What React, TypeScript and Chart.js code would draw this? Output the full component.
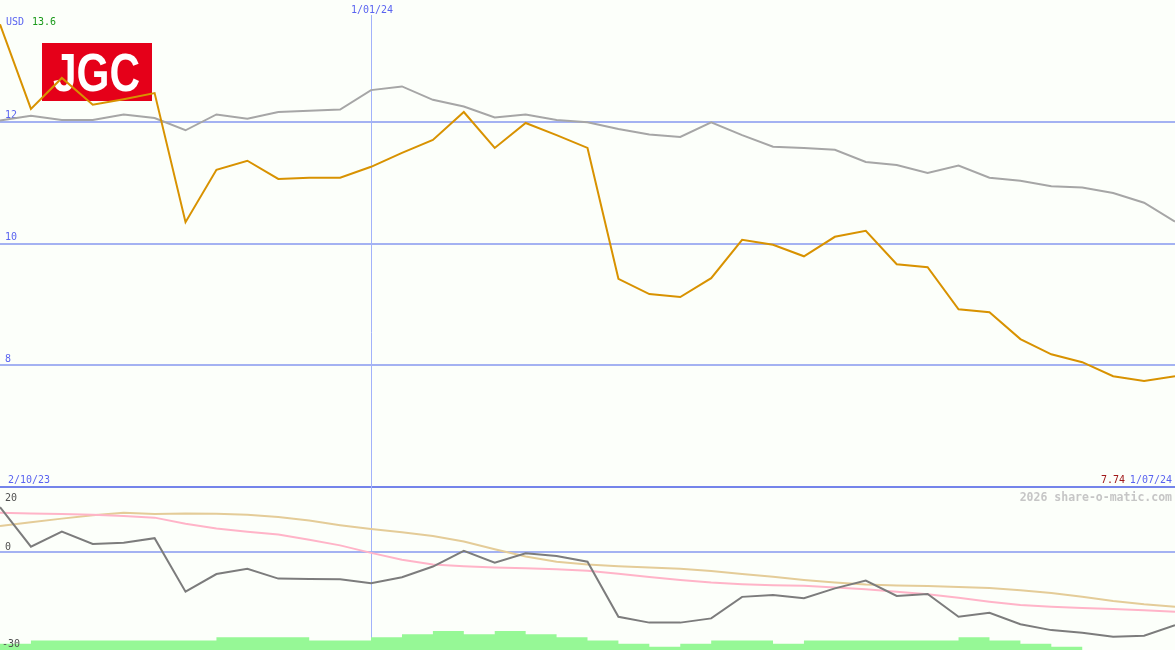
import React, { useEffect, useRef } from 'react';
import { Chart, registerables } from 'chart.js';

Chart.register(...registerables);

// ---------- data ----------
const dates = [
  '9/10/23', '16/10/23', '23/10/23', '30/10/23', '6/11/23', '13/11/23', '20/11/23', '27/11/23',
  '4/12/23', '11/12/23', '18/12/23', '25/12/23', '1/01/24', '8/01/24', '15/01/24', '22/01/24',
  '29/01/24', '5/02/24', '12/02/24', '19/02/24', '26/02/24', '4/03/24', '11/03/24', '18/03/24',
  '25/03/24', '1/04/24', '8/04/24', '15/04/24', '22/04/24', '29/04/24', '6/05/24', '13/05/24',
  '20/05/24', '27/05/24', '3/06/24', '10/06/24', '17/06/24', '24/06/24', '1/07/24',
];

const price = [
  13.6, 12.21, 12.72, 12.28, 12.37, 12.47, 10.35, 11.21, 11.36, 11.06, 11.08, 11.08, 11.26,
  11.49, 11.7, 12.16, 11.57, 11.98, 11.78, 11.57, 9.42, 9.17, 9.12, 9.43, 10.06, 9.98,
  9.79, 10.11, 10.21, 9.66, 9.61, 8.92, 8.87, 8.43, 8.18, 8.05, 7.82, 7.74, 7.82,
];

const average = [
  12.02, 12.1, 12.03, 12.03, 12.12, 12.06, 11.86, 12.12, 12.05, 12.16, 12.18, 12.2, 12.52,
  12.58, 12.36, 12.25, 12.07, 12.12, 12.03, 11.99, 11.88, 11.79, 11.75, 11.99, 11.78, 11.59,
  11.57, 11.54, 11.34, 11.29, 11.16, 11.28, 11.08, 11.03, 10.94, 10.92, 10.83, 10.67, 10.36,
];

const oscillator = [
  13.8, 1.7, 6.3, 2.5, 2.9, 4.3, -12.1, -6.7, -5.1, -8.1, -8.2, -8.3, -9.5,
  -7.7, -4.4, 0.4, -3.2, -0.3, -1.2, -2.9, -19.8, -21.6, -21.6, -20.3, -13.7, -13.1,
  -14.1, -11.1, -8.7, -13.4, -12.8, -19.8, -18.6, -22.1, -23.9, -24.7, -25.9, -25.6, -22.4,
];

const signalFast = [
  12.1, 11.9, 11.7, 11.5, 11.1, 10.6, 8.7, 7.3, 6.3, 5.4, 3.8, 2.1, -0.2,
  -2.3, -3.8, -4.3, -4.7, -4.9, -5.2, -5.7, -6.6, -7.6, -8.5, -9.3, -9.8, -10.1,
  -10.3, -10.8, -11.4, -12.1, -12.9, -14.0, -15.2, -16.2, -16.7, -17.1, -17.4, -17.8, -18.3,
];

const signalSlow = [
  8.0, 9.2, 10.3, 11.3, 12.1, 11.7, 11.9, 11.8, 11.5, 10.8, 9.7, 8.3, 7.1,
  6.1, 5.0, 3.3, 0.9, -1.3, -2.9, -3.8, -4.3, -4.7, -5.1, -5.8, -6.7, -7.5,
  -8.5, -9.3, -9.9, -10.2, -10.4, -10.7, -11.0, -11.7, -12.5, -13.7, -15.0, -16.0, -16.7,
];

const volume = [
  2, 3, 3, 3, 3, 3, 3, 4, 4, 4, 3, 3, 4,
  5, 6, 5, 6, 5, 4, 3, 2, 1, 2, 3, 3, 2,
  3, 3, 3, 3, 3, 4, 3, 2, 1, 0, 0, 0, 0,
];

const priceTicks = [12, 10, 8];
const oscTicks = [20, 0, -30];
const markedDate = '1/01/24';
const periodStart = '2/10/23';
const currency = 'USD';
const brand = 'JGC';
const watermark = '2026 share-o-matic.com';

// ---------- style ----------
const BG = '#fcfffa';
const MONO = "'DejaVu Sans Mono', monospace";
const BLUE_TEXT = '#5a64f0';
const GRID = '#a4b2f2';
const SEP = '#7484ea';
const MARK_LINE = '#a2b2fa';

const decorPlugin = {
  id: 'decor',
  beforeDraw(chart: any) {
    const { ctx, width, height } = chart;
    ctx.save();
    ctx.fillStyle = BG;
    ctx.fillRect(0, 0, width, height);
    ctx.restore();
  },
  beforeDatasetsDraw(chart: any) {
    const ctx = chart.ctx;
    const xs = chart.scales.x;
    const area = chart.chartArea;
    ctx.save();
    // vertical marker line at the marked date
    const mx = Math.round(xs.getPixelForValue(dates.indexOf(markedDate))) + 0.5;
    ctx.strokeStyle = MARK_LINE;
    ctx.lineWidth = 1;
    ctx.beginPath();
    ctx.moveTo(mx, area.top + 15);
    ctx.lineTo(mx, area.bottom);
    ctx.stroke();

    // logo
    ctx.fillStyle = '#e50019';
    ctx.fillRect(42, 43, 110, 58);
    ctx.fillStyle = '#ffffff';
    ctx.font = "bold 53px 'Liberation Sans', Arial, sans-serif";
    ctx.textAlign = 'center';
    ctx.textBaseline = 'alphabetic';
    ctx.translate(96.5, 91);
    ctx.scale(0.8, 1);
    ctx.fillText(brand, 0, 0);
    ctx.restore();
  },
  afterDraw(chart: any) {
    const { ctx, width } = chart;
    const xs = chart.scales.x;
    const y2 = chart.scales.y2;
    ctx.save();
    ctx.font = `10px ${MONO}`;
    ctx.textBaseline = 'alphabetic';

    // top-left currency + max
    ctx.textAlign = 'left';
    ctx.fillStyle = BLUE_TEXT;
    ctx.fillText(currency, 6, 25);
    ctx.fillStyle = '#1a9a1a';
    ctx.fillText(Math.max(...price).toFixed(1), 32, 25);

    // marked date at top
    const mx = xs.getPixelForValue(dates.indexOf(markedDate));
    ctx.textAlign = 'center';
    ctx.fillStyle = BLUE_TEXT;
    ctx.fillText(markedDate, mx + 1, 13);

    // bottom line of the price panel
    const sep = y2.top;
    ctx.textAlign = 'left';
    ctx.fillText(periodStart, 8, sep - 4);
    ctx.textAlign = 'right';
    ctx.fillText(dates[dates.length - 1], width - 3, sep - 4);
    ctx.fillStyle = '#a01818';
    ctx.fillText(Math.min(...price).toFixed(2), width - 50, sep - 4);

    // watermark
    ctx.font = `bold 11.5px ${MONO}`;
    ctx.fillStyle = '#c6c6c6';
    ctx.fillText(watermark, width - 3, sep + 13.5);

    // oscillator axis labels
    ctx.font = `10px ${MONO}`;
    ctx.fillStyle = '#505050';
    ctx.textAlign = 'left';
    const top = Math.max(...oscTicks);
    const bottom = Math.min(...oscTicks);
    oscTicks.forEach((t) => {
      const py = y2.getPixelForValue(t);
      let by = py - 2.5;
      if (t === top) by = py + 13.5;
      else if (t === bottom) by = py - 3.5;
      ctx.fillText(String(t), t < 0 ? 2 : 5, by);
    });
    ctx.restore();
  },
};

const flatAxis = (s: any) => {
  s.width = 0;
  s.paddingTop = 0;
  s.paddingBottom = 0;
  s.paddingLeft = 0;
  s.paddingRight = 0;
};

export default function App() {
  const ref = useRef<HTMLCanvasElement>(null);

  useEffect(() => {
    const chart = new Chart(ref.current as HTMLCanvasElement, {
      type: 'line',
      data: {
        labels: dates,
        datasets: [
          {
            label: 'Price',
            data: price,
            yAxisID: 'y',
            borderColor: '#d89200',
            borderWidth: 2,
            pointRadius: 0,
            tension: 0,
            order: 0,
          },
          {
            label: 'Average',
            data: average,
            yAxisID: 'y',
            borderColor: '#a6a6a6',
            borderWidth: 2,
            pointRadius: 0,
            tension: 0,
            order: 1,
          },
          {
            label: 'Oscillator',
            data: oscillator,
            yAxisID: 'y2',
            borderColor: '#7c7c7c',
            borderWidth: 2,
            pointRadius: 0,
            tension: 0,
            order: 2,
          },
          {
            label: 'Signal fast',
            data: signalFast,
            yAxisID: 'y2',
            borderColor: '#ffb4c8',
            borderWidth: 2,
            pointRadius: 0,
            tension: 0,
            order: 3,
          },
          {
            label: 'Signal slow',
            data: signalSlow,
            yAxisID: 'y2',
            borderColor: '#e4cc98',
            borderWidth: 2,
            pointRadius: 0,
            tension: 0,
            order: 4,
          },
          {
            label: 'Volume',
            data: volume,
            yAxisID: 'yVol',
            borderWidth: 0,
            borderColor: 'rgba(0,0,0,0)',
            backgroundColor: '#96f896',
            fill: 'start',
            stepped: true,
            pointRadius: 0,
            order: 10,
          },
        ],
      },
      options: {
        responsive: false,
        devicePixelRatio: 1,
        animation: false,
        events: [],
        layout: { padding: 0 },
        plugins: {
          legend: { display: false },
          tooltip: { enabled: false },
          title: { display: false },
        },
        scales: {
          x: {
            type: 'category',
            offset: false,
            border: { display: false },
            grid: { display: false, drawTicks: false },
            ticks: { display: false },
            afterFit: (s: any) => {
              s.height = 0;
              s.paddingLeft = 0;
              s.paddingRight = 0;
              s.paddingTop = 0;
              s.paddingBottom = 0;
            },
          },
          y2: {
            position: 'left',
            stack: 'panels',
            stackWeight: 163,
            min: -30,
            max: 20,
            border: { display: false },
            grid: {
              drawTicks: false,
              lineWidth: 2,
              color: (c: any) =>
                c.tick && c.tick.value === 20 ? SEP : c.tick && c.tick.value === 0 ? GRID : 'rgba(0,0,0,0)',
            },
            ticks: { display: false },
            afterBuildTicks: (s: any) => {
              s.ticks = oscTicks.map((v) => ({ value: v }));
            },
            afterFit: flatAxis,
          },
          y: {
            position: 'left',
            stack: 'panels',
            stackWeight: 487,
            min: 6,
            max: 14,
            border: { display: false },
            grid: {
              drawTicks: false,
              lineWidth: 2,
              color: GRID,
            },
            ticks: {
              mirror: true,
              padding: 5,
              labelOffset: -6,
              color: BLUE_TEXT,
              font: { family: MONO, size: 10 },
            },
            afterBuildTicks: (s: any) => {
              s.ticks = priceTicks.map((v) => ({ value: v }));
            },
            afterFit: flatAxis,
          },
          yTop: {
            position: 'right',
            display: false,
            stack: 'side',
            stackWeight: 487,
            min: 0,
            max: 1,
            afterFit: flatAxis,
          },
          yVol: {
            position: 'right',
            display: false,
            stack: 'side',
            stackWeight: 163,
            min: 0,
            max: 51.5,
            afterFit: flatAxis,
          },
        },
      } as any,
      plugins: [decorPlugin],
    });
    return () => chart.destroy();
  }, []);

  return (
    <div style={{ position: 'fixed', left: 0, top: 0, width: 1175, height: 650, background: BG }}>
      <canvas ref={ref} width={1175} height={650} style={{ display: 'block', width: 1175, height: 650 }} />
    </div>
  );
}
